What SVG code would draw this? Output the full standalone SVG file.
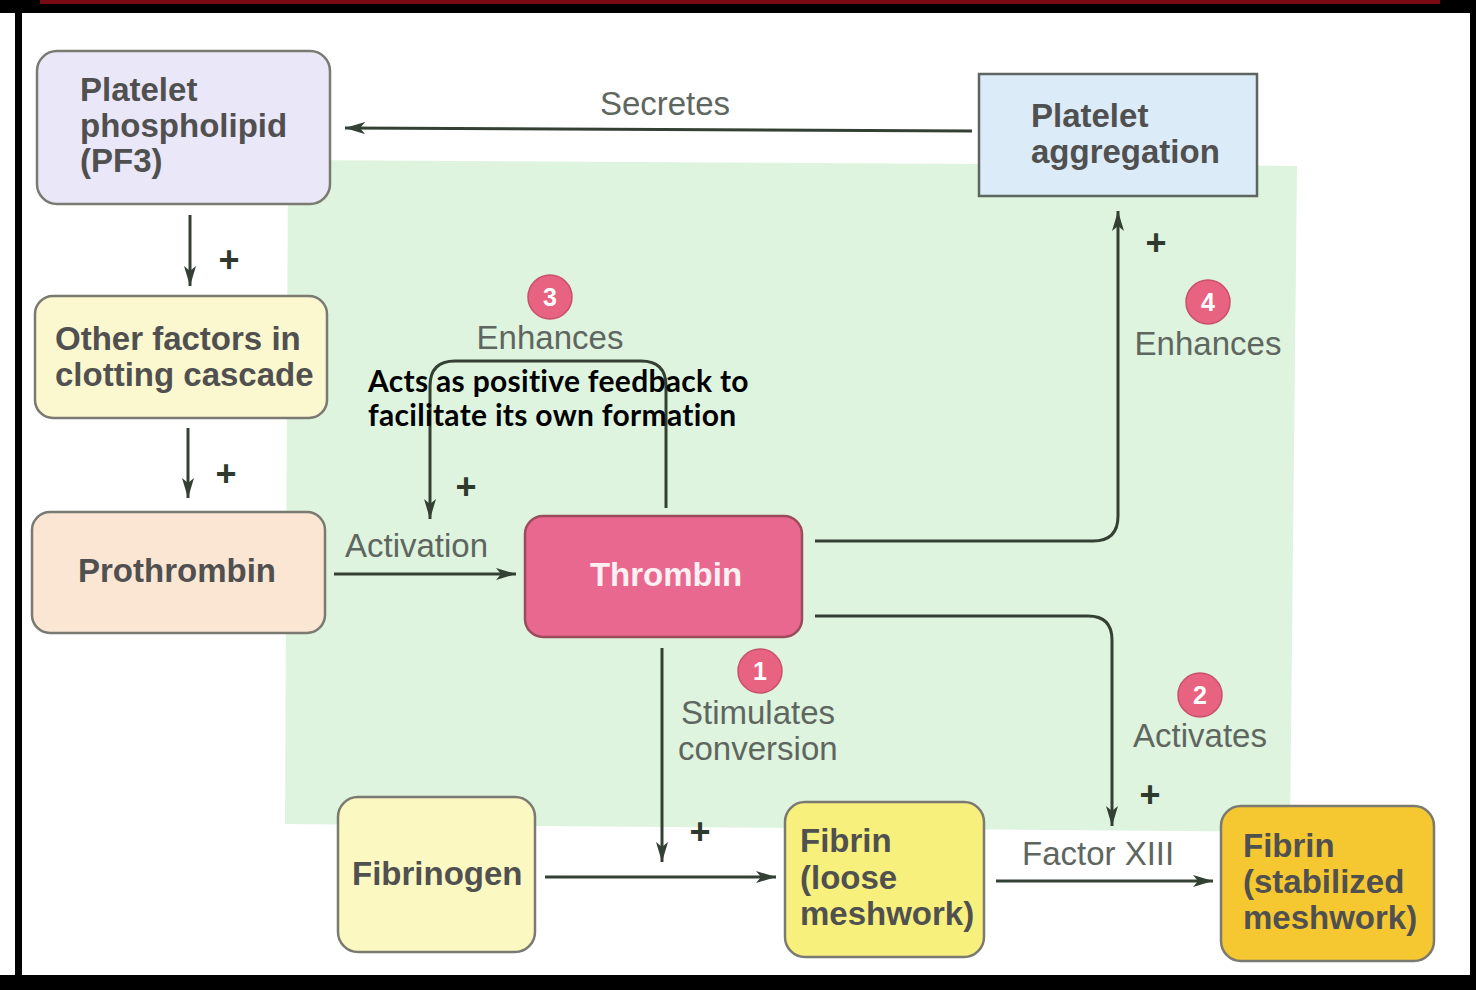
<svg xmlns="http://www.w3.org/2000/svg" width="1476" height="990" viewBox="0 0 1476 990">
<defs>
<style>
.node{stroke:#7a7a72;stroke-width:2.5}
.nt{font-family:"Liberation Sans",Arial,sans-serif;font-weight:bold;font-size:33px;fill:#505050}
.lbl{font-family:"Liberation Sans",Arial,sans-serif;font-size:33px;fill:#5e6660}
.plus{font-family:"Liberation Sans",Arial,sans-serif;font-weight:bold;font-size:36px;fill:#2e3a2e}
.conn{fill:none;stroke:#344034;stroke-width:3}
.badge{fill:#e8637f;stroke:#c9506a;stroke-width:1.5}
.bt{font-family:"Liberation Sans",Arial,sans-serif;font-weight:bold;font-size:25px;fill:#ffffff;text-anchor:middle}
.ov{font-family:Lato,"Open Sans",sans-serif;font-weight:bold;font-size:30px;letter-spacing:0.3px;fill:#000000}
</style>
<marker id="ah" viewBox="0 0 20 12" refX="20" refY="6" markerWidth="20" markerHeight="12" markerUnits="userSpaceOnUse" orient="auto">
<path d="M0,0 L20,6 L0,12 L5,6 Z" fill="#344034"/>
</marker>
</defs>
<rect x="0" y="0" width="1476" height="990" fill="#000000"/>
<rect x="0" y="13" width="15" height="962" fill="#ffffff"/>
<rect x="40" y="0" width="1400" height="4" fill="#7a0a12"/>
<rect x="22" y="13" width="1448" height="962" fill="#ffffff"/>
<polygon points="288,160 1297,166 1290,832 285,824" fill="#def4de"/>

<g id="connectors">
<line class="conn" x1="972" y1="131" x2="345" y2="128" marker-end="url(#ah)"/>
<line class="conn" x1="190" y1="215" x2="190" y2="286" marker-end="url(#ah)"/>
<line class="conn" x1="188" y1="428" x2="188" y2="498" marker-end="url(#ah)"/>
<line class="conn" x1="334" y1="574" x2="516" y2="574" marker-end="url(#ah)"/>
<path class="conn" d="M666,508 V386 Q666,361 641,361 H455 Q430,361 430,386 V519" marker-end="url(#ah)"/>
<path class="conn" d="M815,541 H1093 Q1118,541 1118,516 V211" marker-end="url(#ah)"/>
<path class="conn" d="M815,616 H1088 Q1112,616 1112,640 V826" marker-end="url(#ah)"/>
<line class="conn" x1="662" y1="648" x2="662" y2="862" marker-end="url(#ah)"/>
<line class="conn" x1="545" y1="877" x2="776" y2="877" marker-end="url(#ah)"/>
<line class="conn" x1="996" y1="881" x2="1213" y2="881" marker-end="url(#ah)"/>
<text class="lbl" x="665" y="115" text-anchor="middle">Secretes</text>
<text class="plus" x="229" y="272" text-anchor="middle">+</text>
<text class="plus" x="226" y="486" text-anchor="middle">+</text>
<text class="lbl" x="345" y="557">Activation</text>
<circle class="badge" cx="550" cy="297" r="22"/>
<text class="bt" x="550" y="306">3</text>
<text class="lbl" x="550" y="349" text-anchor="middle">Enhances</text>
<text class="plus" x="466" y="499" text-anchor="middle">+</text>
<text class="plus" x="1156" y="255" text-anchor="middle">+</text>
<circle class="badge" cx="1208" cy="302" r="22"/>
<text class="bt" x="1208" y="311">4</text>
<text class="lbl" x="1208" y="355" text-anchor="middle">Enhances</text>
<circle class="badge" cx="760" cy="671" r="22"/>
<text class="bt" x="760" y="680">1</text>
<text class="lbl" x="681" y="724">Stimulates</text>
<text class="lbl" x="678" y="760">conversion</text>
<text class="plus" x="700" y="844" text-anchor="middle">+</text>
<circle class="badge" cx="1200" cy="695" r="22"/>
<text class="bt" x="1200" y="704">2</text>
<text class="lbl" x="1200" y="747" text-anchor="middle">Activates</text>
<text class="plus" x="1150" y="807" text-anchor="middle">+</text>
<text class="lbl" x="1022" y="865">Factor XIII</text>
</g>

<g id="pf3">
<rect class="node" x="37" y="51" width="293" height="153" rx="20" fill="#eae7f8"/>
<text class="nt" x="80" y="101">Platelet</text>
<text class="nt" x="80" y="137">phospholipid</text>
<text class="nt" x="80" y="172">(PF3)</text>
</g>
<g id="aggregation">
<rect x="979" y="74" width="278" height="122" fill="#dcebf8" stroke="#5e6460" stroke-width="2.5"/>
<text class="nt" x="1031" y="127">Platelet</text>
<text class="nt" x="1031" y="163">aggregation</text>
</g>
<g id="other">
<rect class="node" x="35" y="296" width="292" height="122" rx="18" fill="#fbf8cf"/>
<text class="nt" x="55" y="350">Other factors in</text>
<text class="nt" x="55" y="386">clotting cascade</text>
</g>
<g id="prothrombin">
<rect class="node" x="32" y="512" width="293" height="121" rx="18" fill="#fbe6d4"/>
<text class="nt" x="78" y="582">Prothrombin</text>
</g>
<g id="thrombin">
<rect x="525" y="516" width="277" height="121" rx="18" fill="#e8688f" stroke="#9c4a5c" stroke-width="2.5"/>
<text class="nt" x="666" y="586" text-anchor="middle" style="fill:#fdf0f2">Thrombin</text>
</g>
<g id="fibrinogen">
<rect class="node" x="338" y="797" width="197" height="155" rx="20" fill="#fbf8c2"/>
<text class="nt" x="352" y="885">Fibrinogen</text>
</g>
<g id="fibrin-loose">
<rect class="node" x="785" y="802" width="199" height="155" rx="20" fill="#f8f07c"/>
<text class="nt" x="800" y="852">Fibrin</text>
<text class="nt" x="800" y="889">(loose</text>
<text class="nt" x="800" y="925">meshwork)</text>
</g>
<g id="fibrin-stable">
<rect class="node" x="1221" y="806" width="213" height="155" rx="20" fill="#f5c832"/>
<text class="nt" x="1243" y="857">Fibrin</text>
<text class="nt" x="1243" y="893">(stabilized</text>
<text class="nt" x="1243" y="929">meshwork)</text>
</g>
<g id="note">
<text class="ov" x="368" y="392">Acts as positive feedback to</text>
<text class="ov" x="368" y="426">facilitate its own formation</text>
</g>
</svg>
